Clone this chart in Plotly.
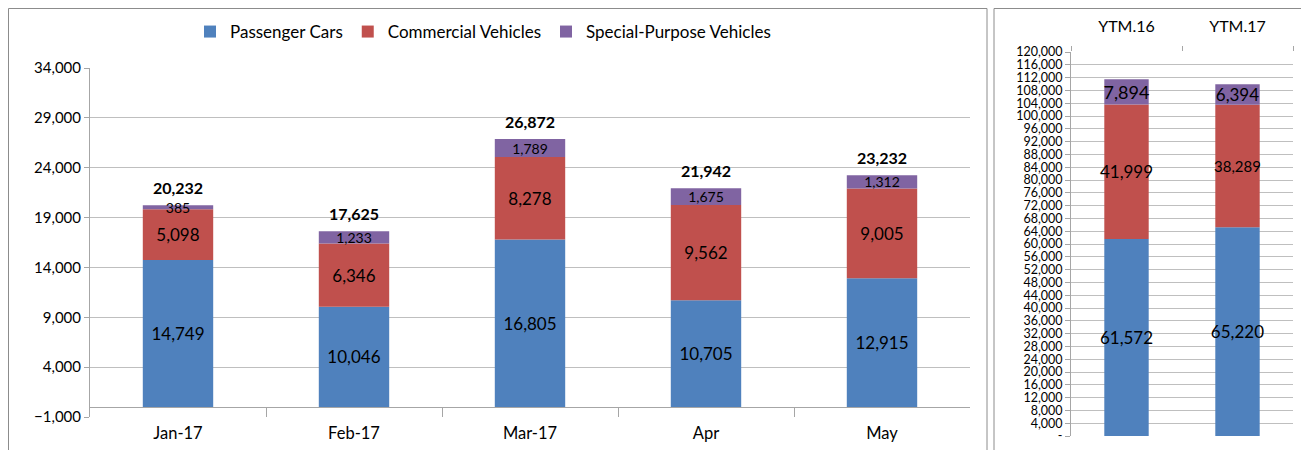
import plotly.graph_objects as go

# ---- data ----
months = ["Jan-17", "Feb-17", "Mar-17", "Apr", "May"]
passenger = [14749, 10046, 16805, 10705, 12915]
commercial = [5098, 6346, 8278, 9562, 9005]
special = [385, 1233, 1789, 1675, 1312]
totals = [20232, 17625, 26872, 21942, 23232]

ytm_labels = ["YTM.16", "YTM.17"]
ytm_passenger = [61572, 65220]
ytm_commercial = [41999, 38289]
ytm_special = [7894, 6394]

left_ticks = list(range(-1000, 34001, 5000))
right_ticks = list(range(0, 120001, 4000))
right_ticktext = ["-" if v == 0 else f"{v:,}" for v in right_ticks]

BLUE = "#4F81BD"
RED = "#C0504D"
PURPLE = "#8064A2"
GRID = "#BFBFBF"
AXIS = "#A6A6A6"
FONT = "Lato, 'Open Sans', sans-serif"

# page body has an 8px margin: figure occupies the rest of the 1309x450 window
OFF = 8
W, H = 1309 - OFF, 450 - OFF

def fmt(vals):
    return [f"{v:,}" for v in vals]

fig = go.Figure()

# left chart
for name, vals, col, fs in [
    ("Passenger Cars", passenger, BLUE, 17),
    ("Commercial Vehicles", commercial, RED, 17),
    ("Special-Purpose Vehicles", special, PURPLE, 14),
]:
    fig.add_trace(go.Bar(
        x=months, y=vals, name=name, marker=dict(color=col, line=dict(width=0)),
        width=0.4, text=fmt(vals), textposition="inside", insidetextanchor="middle",
        textangle=0, constraintext="none", cliponaxis=False,
        textfont=dict(size=fs, color="black", family=FONT),
        xaxis="x", yaxis="y", showlegend=True,
    ))

# right chart
for name, vals, col, fss in [
    ("Passenger Cars", ytm_passenger, BLUE, [17, 17]),
    ("Commercial Vehicles", ytm_commercial, RED, [17, 15]),
    ("Special-Purpose Vehicles", ytm_special, PURPLE, [18, 17]),
]:
    fig.add_trace(go.Bar(
        x=ytm_labels, y=vals, name=name, marker=dict(color=col, line=dict(width=0)),
        width=0.4, text=fmt(vals), textposition="inside", insidetextanchor="middle",
        textangle=0, constraintext="none",
        textfont=dict(size=fss, color="black", family=FONT),
        xaxis="x2", yaxis="y2", showlegend=False,
    ))

# totals above left bars
annotations = [
    dict(x=m, y=t, xref="x", yref="y", text=f"<b>{t:,}</b>", showarrow=False,
         yanchor="middle", yshift=18, font=dict(size=16, color="black", family=FONT))
    for m, t in zip(months, totals)
]

def px_x(p):
    return (p - OFF) / W

def px_y(p):
    return 1 - (p - OFF) / H

fig.update_layout(
    width=W, height=H, barmode="relative",
    margin=dict(l=0, r=0, t=0, b=0, autoexpand=False),
    paper_bgcolor="white", plot_bgcolor="white",
    font=dict(family=FONT, color="black"),
    legend=dict(orientation="h", x=px_x(190), y=px_y(32), xanchor="left", yanchor="middle",
                font=dict(size=17, family=FONT), itemwidth=30, bgcolor="rgba(0,0,0,0)"),
    annotations=annotations,
    xaxis=dict(domain=[px_x(90), px_x(970)], anchor="y", showline=False, automargin=False,
               ticks="inside", ticklen=9, tickcolor=AXIS, tickson="boundaries",
               tickfont=dict(size=16.5), showgrid=False, ticklabelstandoff=4),
    yaxis=dict(domain=[px_y(417), px_y(68)], range=[-1000, 34000], tickvals=left_ticks,
               tickformat=",", showgrid=True, gridcolor=GRID, gridwidth=1, automargin=False,
               zeroline=True, zerolinecolor=AXIS, zerolinewidth=1,
               showline=True, linecolor=AXIS, ticks="outside", ticklen=5, tickcolor=AXIS,
               tickfont=dict(size=15)),
    xaxis2=dict(domain=[px_x(1071), px_x(1293)], anchor="y2", side="top", automargin=False,
                ticks="outside", ticklen=5, tickcolor=AXIS, tickson="boundaries",
                showline=False, showgrid=False, tickfont=dict(size=16), ticklabelstandoff=16),
    yaxis2=dict(domain=[px_y(436), px_y(52)], range=[0, 120000], tickvals=right_ticks,
                ticktext=right_ticktext, showgrid=True, gridcolor=GRID, gridwidth=1,
                automargin=False,
                zeroline=False, showline=True, linecolor=AXIS, ticks="outside", ticklen=5,
                tickcolor=AXIS, tickfont=dict(size=12.5), anchor="x2"),
    shapes=[
        dict(type="rect", xref="paper", yref="paper", x0=px_x(8.5), x1=px_x(987),
             y0=-0.2, y1=px_y(8.5), line=dict(color="#8C8C8C", width=1)),
        dict(type="rect", xref="paper", yref="paper", x0=px_x(994), x1=1.2,
             y0=-0.2, y1=px_y(8.5), line=dict(color="#8C8C8C", width=1)),
    ],
)

fig.write_html("out.html")
